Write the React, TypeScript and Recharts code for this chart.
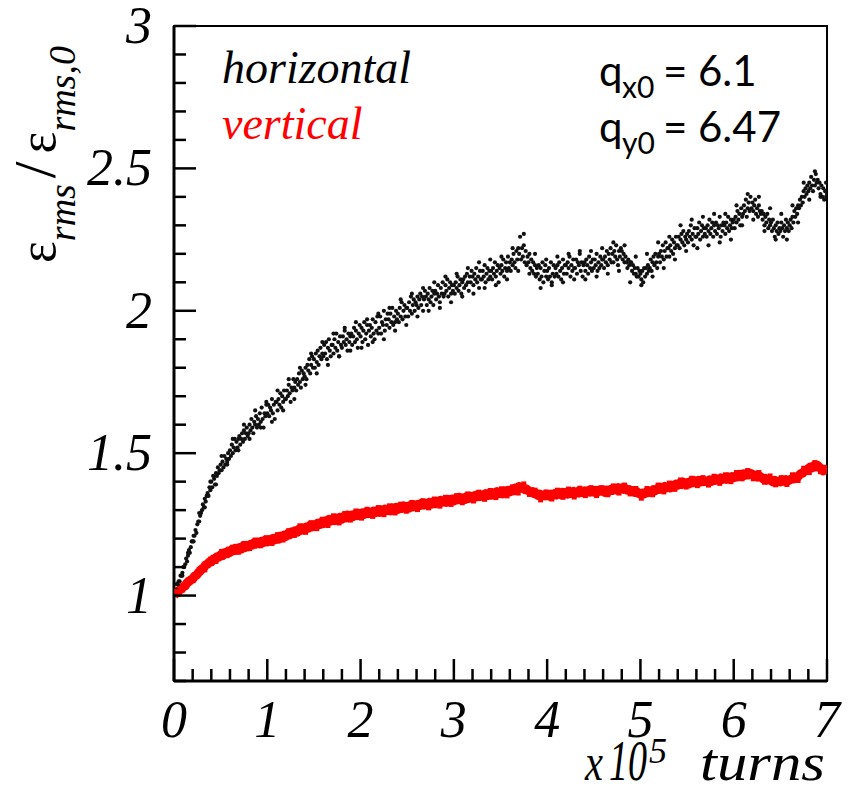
import React from 'react';
import { ComposedChart, Scatter, Line, XAxis, YAxis, ReferenceArea } from 'recharts';

// emittance growth, horizontal plane, sampled every 0.01 x 10^5 turns
const horizontalValues = [
  1.00, 1.01, 1.02, 1.02, 1.04, 1.05, 1.05, 1.07, 1.07, 1.08,
  1.10, 1.10, 1.11, 1.13, 1.12, 1.14, 1.16, 1.15, 1.17, 1.19,
  1.19, 1.21, 1.21, 1.23, 1.22, 1.25, 1.26, 1.26, 1.28, 1.29,
  1.30, 1.32, 1.31, 1.34, 1.33, 1.35, 1.36, 1.35, 1.38, 1.37,
  1.40, 1.38, 1.42, 1.41, 1.39, 1.43, 1.42, 1.45, 1.43, 1.44,
  1.46, 1.44, 1.47, 1.45, 1.49, 1.46, 1.48, 1.47, 1.50, 1.48,
  1.51, 1.49, 1.53, 1.50, 1.52, 1.55, 1.51, 1.54, 1.52, 1.55,
  1.56, 1.53, 1.55, 1.57, 1.54, 1.58, 1.55, 1.57, 1.59, 1.56,
  1.57, 1.60, 1.58, 1.62, 1.59, 1.57, 1.61, 1.60, 1.63, 1.59,
  1.62, 1.60, 1.64, 1.61, 1.66, 1.62, 1.59, 1.64, 1.63, 1.67,
  1.64, 1.67, 1.63, 1.66, 1.65, 1.69, 1.64, 1.67, 1.62, 1.68,
  1.68, 1.65, 1.69, 1.67, 1.71, 1.66, 1.70, 1.68, 1.72, 1.69,
  1.69, 1.72, 1.70, 1.74, 1.71, 1.68, 1.73, 1.72, 1.76, 1.73,
  1.75, 1.72, 1.76, 1.74, 1.78, 1.75, 1.73, 1.79, 1.76, 1.78,
  1.77, 1.80, 1.76, 1.81, 1.79, 1.83, 1.78, 1.81, 1.84, 1.80,
  1.83, 1.80, 1.85, 1.82, 1.86, 1.81, 1.84, 1.87, 1.83, 1.85,
  1.84, 1.88, 1.85, 1.89, 1.83, 1.87, 1.90, 1.86, 1.84, 1.88,
  1.88, 1.85, 1.90, 1.87, 1.92, 1.86, 1.89, 1.84, 1.91, 1.88,
  1.87, 1.91, 1.89, 1.93, 1.88, 1.90, 1.86, 1.92, 1.89, 1.91,
  1.92, 1.88, 1.91, 1.94, 1.89, 1.93, 1.90, 1.87, 1.92, 1.95,
  1.91, 1.94, 1.89, 1.93, 1.96, 1.90, 1.92, 1.95, 1.88, 1.93,
  1.95, 1.91, 1.94, 1.97, 1.92, 1.90, 1.96, 1.93, 1.98, 1.92,
  1.94, 1.98, 1.92, 1.96, 1.95, 2.00, 1.93, 1.97, 1.95, 1.99,
  1.97, 1.94, 1.99, 1.96, 2.01, 1.95, 1.98, 1.96, 2.00, 1.97,
  1.99, 1.96, 2.01, 1.98, 2.03, 1.97, 2.00, 2.02, 1.98, 2.01,
  2.01, 1.98, 2.03, 2.00, 2.05, 1.99, 2.02, 2.04, 2.00, 2.03,
  2.02, 2.05, 2.01, 2.04, 2.06, 2.02, 2.05, 2.00, 2.04, 2.07,
  2.05, 2.02, 2.06, 2.04, 2.08, 2.03, 2.05, 2.07, 2.02, 2.06,
  2.07, 2.04, 2.06, 2.09, 2.05, 2.03, 2.08, 2.06, 2.10, 2.05,
  2.06, 2.09, 2.07, 2.11, 2.05, 2.08, 2.10, 2.06, 2.09, 2.07,
  2.09, 2.06, 2.10, 2.08, 2.12, 2.07, 2.09, 2.11, 2.06, 2.10,
  2.11, 2.08, 2.12, 2.09, 2.13, 2.10, 2.07, 2.12, 2.10, 2.14,
  2.12, 2.09, 2.13, 2.11, 2.15, 2.10, 2.12, 2.08, 2.14, 2.11,
  2.11, 2.14, 2.12, 2.16, 2.10, 2.13, 2.15, 2.11, 2.14, 2.12,
  2.14, 2.11, 2.15, 2.13, 2.17, 2.12, 2.14, 2.16, 2.10, 2.15,
  2.13, 2.16, 2.14, 2.18, 2.12, 2.15, 2.17, 2.14, 2.19, 2.15,
  2.17, 2.14, 2.18, 2.16, 2.20, 2.17, 2.15, 2.21, 2.18, 2.22,
  2.20, 2.26, 2.18, 2.22, 2.19, 2.23, 2.17, 2.21, 2.16, 2.19,
  2.17, 2.20, 2.15, 2.18, 2.14, 2.17, 2.13, 2.16, 2.12, 2.15,
  2.13, 2.16, 2.11, 2.15, 2.12, 2.17, 2.10, 2.14, 2.16, 2.12,
  2.14, 2.11, 2.15, 2.12, 2.17, 2.10, 2.13, 2.16, 2.12, 2.15,
  2.13, 2.16, 2.12, 2.17, 2.14, 2.11, 2.15, 2.18, 2.13, 2.16,
  2.16, 2.13, 2.17, 2.15, 2.19, 2.12, 2.16, 2.14, 2.18, 2.15,
  2.15, 2.18, 2.13, 2.17, 2.16, 2.20, 2.14, 2.17, 2.12, 2.16,
  2.17, 2.14, 2.18, 2.16, 2.13, 2.19, 2.15, 2.17, 2.14, 2.18,
  2.15, 2.18, 2.16, 2.20, 2.14, 2.17, 2.15, 2.19, 2.16, 2.18,
  2.18, 2.15, 2.19, 2.17, 2.21, 2.16, 2.20, 2.18, 2.22, 2.17,
  2.20, 2.17, 2.21, 2.19, 2.23, 2.18, 2.16, 2.21, 2.19, 2.22,
  2.21, 2.18, 2.20, 2.17, 2.19, 2.17, 2.15, 2.18, 2.16, 2.17,
  2.17, 2.14, 2.16, 2.13, 2.15, 2.13, 2.12, 2.15, 2.12, 2.14,
  2.13, 2.11, 2.14, 2.10, 2.15, 2.12, 2.15, 2.13, 2.16, 2.14,
  2.15, 2.18, 2.14, 2.17, 2.19, 2.16, 2.20, 2.17, 2.15, 2.19,
  2.20, 2.17, 2.21, 2.19, 2.23, 2.18, 2.21, 2.24, 2.19, 2.22,
  2.22, 2.19, 2.23, 2.21, 2.25, 2.20, 2.24, 2.22, 2.26, 2.23,
  2.23, 2.26, 2.22, 2.25, 2.27, 2.24, 2.28, 2.23, 2.26, 2.25,
  2.27, 2.24, 2.28, 2.26, 2.30, 2.25, 2.27, 2.23, 2.29, 2.26,
  2.26, 2.29, 2.27, 2.31, 2.25, 2.28, 2.30, 2.26, 2.29, 2.27,
  2.29, 2.26, 2.30, 2.28, 2.32, 2.27, 2.29, 2.31, 2.26, 2.30,
  2.28, 2.31, 2.27, 2.30, 2.29, 2.33, 2.26, 2.30, 2.28, 2.31,
  2.30, 2.27, 2.31, 2.29, 2.33, 2.28, 2.30, 2.32, 2.29, 2.31,
  2.32, 2.29, 2.33, 2.31, 2.35, 2.32, 2.34, 2.30, 2.36, 2.33,
  2.34, 2.37, 2.35, 2.39, 2.33, 2.36, 2.38, 2.35, 2.40, 2.36,
  2.38, 2.35, 2.37, 2.39, 2.34, 2.36, 2.33, 2.37, 2.35, 2.34,
  2.35, 2.32, 2.34, 2.30, 2.33, 2.31, 2.34, 2.29, 2.32, 2.30,
  2.31, 2.28, 2.32, 2.29, 2.26, 2.30, 2.28, 2.31, 2.27, 2.29,
  2.28, 2.31, 2.29, 2.26, 2.30, 2.28, 2.32, 2.29, 2.31, 2.28,
  2.30, 2.32, 2.29, 2.33, 2.31, 2.35, 2.33, 2.36, 2.34, 2.37,
  2.36, 2.39, 2.37, 2.40, 2.38, 2.42, 2.40, 2.43, 2.41, 2.44,
  2.42, 2.45, 2.43, 2.47, 2.44, 2.42, 2.46, 2.44, 2.48, 2.45,
  2.46, 2.43, 2.45, 2.41, 2.44, 2.40, 2.43, 2.39, 2.42, 2.40,
  2.41,
];

// stray horizontal points at the edges of the cloud, every 0.06 starting at 0.03
const horizontalOuterValues = [
  1.04, 1.07, 1.15, 1.19, 1.29, 1.31, 1.40, 1.39, 1.49, 1.46,
  1.55, 1.51, 1.60, 1.55, 1.65, 1.59, 1.68, 1.61, 1.72, 1.65,
  1.76, 1.69, 1.80, 1.74, 1.85, 1.78, 1.89, 1.81, 1.92, 1.84,
  1.94, 1.86, 1.96, 1.87, 1.97, 1.89, 1.99, 1.90, 2.01, 1.93,
  2.04, 1.95, 2.06, 1.98, 2.08, 2.00, 2.10, 2.01, 2.12, 2.03,
  2.13, 2.05, 2.15, 2.06, 2.17, 2.08, 2.18, 2.09, 2.19, 2.11,
  2.22, 2.14, 2.27, 2.13, 2.20, 2.08, 2.18, 2.09, 2.19, 2.10,
  2.20, 2.11, 2.21, 2.11, 2.21, 2.12, 2.22, 2.13, 2.24, 2.14,
  2.23, 2.10, 2.19, 2.09, 2.20, 2.12, 2.24, 2.15, 2.26, 2.18,
  2.30, 2.21, 2.32, 2.22, 2.33, 2.23, 2.34, 2.24, 2.34, 2.25,
  2.37, 2.30, 2.41, 2.32, 2.40, 2.28, 2.36, 2.25, 2.34, 2.25,
  2.37, 2.31, 2.45, 2.39, 2.49, 2.40, 2.45,
];

// vertical plane, sampled every 0.02 x 10^5 turns
const verticalValues = [
  1.000, 1.008, 1.010, 1.020, 1.023,
  1.032, 1.034, 1.045, 1.049, 1.055,
  1.058, 1.068, 1.071, 1.080, 1.086,
  1.094, 1.098, 1.108, 1.110, 1.118,
  1.118, 1.128, 1.127, 1.136, 1.135,
  1.143, 1.140, 1.150, 1.148, 1.156,
  1.152, 1.162, 1.157, 1.166, 1.160,
  1.168, 1.163, 1.174, 1.168, 1.176,
  1.172, 1.180, 1.177, 1.186, 1.181,
  1.188, 1.182, 1.191, 1.186, 1.195,
  1.188, 1.196, 1.192, 1.201, 1.195,
  1.203, 1.198, 1.209, 1.204, 1.212,
  1.208, 1.217, 1.213, 1.224, 1.219,
  1.228, 1.222, 1.233, 1.229, 1.237,
  1.232, 1.241, 1.236, 1.247, 1.241,
  1.248, 1.243, 1.254, 1.249, 1.258,
  1.252, 1.261, 1.257, 1.268, 1.262,
  1.268, 1.263, 1.272, 1.266, 1.275,
  1.268, 1.278, 1.272, 1.283, 1.276,
  1.283, 1.277, 1.286, 1.281, 1.289,
  1.283, 1.291, 1.285, 1.294, 1.288,
  1.293, 1.287, 1.297, 1.291, 1.299,
  1.292, 1.301, 1.296, 1.304, 1.298,
  1.303, 1.297, 1.308, 1.302, 1.310,
  1.302, 1.311, 1.306, 1.315, 1.308,
  1.313, 1.307, 1.318, 1.311, 1.319,
  1.312, 1.321, 1.316, 1.325, 1.318,
  1.323, 1.317, 1.328, 1.321, 1.329,
  1.322, 1.331, 1.326, 1.335, 1.328,
  1.333, 1.327, 1.338, 1.331, 1.339,
  1.332, 1.341, 1.336, 1.345, 1.338,
  1.343, 1.337, 1.348, 1.341, 1.349,
  1.342, 1.351, 1.346, 1.355, 1.348,
  1.353, 1.347, 1.358, 1.351, 1.359,
  1.352, 1.361, 1.356, 1.365, 1.358,
  1.363, 1.357, 1.368, 1.362, 1.370,
  1.364, 1.372, 1.368, 1.378, 1.373,
  1.383, 1.377, 1.379, 1.372, 1.374,
  1.368, 1.363, 1.365, 1.358, 1.360,
  1.352, 1.356, 1.349, 1.354, 1.350,
  1.353, 1.349, 1.356, 1.352, 1.358,
  1.353, 1.360, 1.355, 1.363, 1.357,
  1.362, 1.356, 1.364, 1.359, 1.366,
  1.358, 1.365, 1.360, 1.367, 1.361,
  1.368, 1.362, 1.369, 1.363, 1.370,
  1.363, 1.369, 1.364, 1.371, 1.366,
  1.368, 1.362, 1.371, 1.366, 1.373,
  1.369, 1.376, 1.371, 1.379, 1.374,
  1.378, 1.373, 1.376, 1.370, 1.372,
  1.367, 1.369, 1.362, 1.365, 1.359,
  1.356, 1.360, 1.357, 1.363, 1.361,
  1.367, 1.362, 1.372, 1.368, 1.376,
  1.373, 1.380, 1.376, 1.383, 1.378,
  1.382, 1.378, 1.387, 1.383, 1.391,
  1.388, 1.395, 1.390, 1.398, 1.393,
  1.397, 1.392, 1.401, 1.396, 1.403,
  1.398, 1.404, 1.399, 1.406, 1.400,
  1.403, 1.398, 1.406, 1.401, 1.408,
  1.404, 1.410, 1.406, 1.413, 1.408,
  1.412, 1.408, 1.416, 1.411, 1.418,
  1.414, 1.420, 1.417, 1.425, 1.421,
  1.428, 1.422, 1.430, 1.424, 1.429,
  1.426, 1.420, 1.423, 1.416, 1.419,
  1.414, 1.409, 1.412, 1.405, 1.408,
  1.404, 1.399, 1.405, 1.398, 1.402,
  1.399, 1.405, 1.401, 1.407, 1.403,
  1.406, 1.410, 1.409, 1.416, 1.414,
  1.422, 1.428, 1.430, 1.438, 1.440,
  1.446, 1.451, 1.448, 1.456, 1.452,
  1.457, 1.449, 1.446, 1.438, 1.443,
  1.435,
];

// stray vertical points at the edges of the band, every 0.06 starting at 0.03
const verticalOuterValues = [
  1.015, 1.020, 1.055, 1.055, 1.092, 1.090, 1.128, 1.120, 1.155, 1.140,
  1.170, 1.152, 1.183, 1.165, 1.195, 1.175, 1.203, 1.183, 1.214, 1.195,
  1.228, 1.211, 1.245, 1.222, 1.256, 1.235, 1.268, 1.246, 1.280, 1.255,
  1.288, 1.265, 1.297, 1.272, 1.303, 1.278, 1.309, 1.284, 1.315, 1.290,
  1.321, 1.296, 1.327, 1.302, 1.333, 1.308, 1.339, 1.314, 1.345, 1.320,
  1.351, 1.326, 1.357, 1.332, 1.363, 1.338, 1.369, 1.344, 1.375, 1.350,
  1.382, 1.360, 1.392, 1.355, 1.370, 1.336, 1.364, 1.339, 1.370, 1.345,
  1.374, 1.346, 1.377, 1.351, 1.379, 1.351, 1.379, 1.354, 1.385, 1.360,
  1.388, 1.357, 1.376, 1.342, 1.376, 1.354, 1.388, 1.364, 1.395, 1.373,
  1.406, 1.381, 1.412, 1.386, 1.414, 1.388, 1.419, 1.394, 1.424, 1.400,
  1.432, 1.410, 1.439, 1.410, 1.432, 1.398, 1.420, 1.389, 1.414, 1.390,
  1.424, 1.404, 1.447, 1.432, 1.467, 1.435, 1.450,
];

const H_STEP = 0.01;
const V_STEP = 0.02;
const OUTER_START = 0.03;
const OUTER_STEP = 0.06;

const xTicks = [
  0, 0.2, 0.4, 0.6, 0.8, 1, 1.2, 1.4, 1.6, 1.8, 2, 2.2, 2.4, 2.6, 2.8, 3, 3.2, 3.4,
  3.6, 3.8, 4, 4.2, 4.4, 4.6, 4.8, 5, 5.2, 5.4, 5.6, 5.8, 6, 6.2, 6.4, 6.6, 6.8, 7,
];
const xLabels = [0, 1, 2, 3, 4, 5, 6, 7];
const yTicks = [
  0.7, 0.8, 0.9, 1, 1.1, 1.2, 1.3, 1.4, 1.5, 1.6, 1.7, 1.8, 1.9, 2, 2.1, 2.2, 2.3,
  2.4, 2.5, 2.6, 2.7, 2.8, 2.9, 3,
];
const yLabels = [1, 1.5, 2, 2.5, 3];

const horizontalPoints = horizontalValues.map((y, i) => ({ x: +(i * H_STEP).toFixed(2), y }));
const horizontalOuter = horizontalOuterValues.map((y, i) => ({ x: +(OUTER_START + i * OUTER_STEP).toFixed(2), y }));
const verticalPoints = verticalValues.map((y, i) => ({ x: +(i * V_STEP).toFixed(2), y }));
const verticalOuter = verticalOuterValues.map((y, i) => ({ x: +(OUTER_START + i * OUTER_STEP).toFixed(2), y }));

const SERIF = "'Liberation Serif', 'Times New Roman', serif";
const SANS = "Lato, 'Open Sans', sans-serif";

const XTick = ({ x, y, payload }: any) => {
  const v = payload.value;
  const major = xLabels.includes(v);
  return (
    <g>
      <line x1={x} x2={x} y1={y} y2={y - (major ? 22 : 12)} stroke="#000" strokeWidth={2.5} />
      {major && (
        <text x={x} y={y + 56} textAnchor="middle" fontFamily={SERIF} fontStyle="italic" fontSize={52} fill="#000">
          {v}
        </text>
      )}
    </g>
  );
};

const YTick = ({ x, y, payload }: any) => {
  const v = payload.value;
  const major = yLabels.includes(v);
  return (
    <g>
      <line x1={x} x2={x + (major ? 22 : 12)} y1={y} y2={y} stroke="#000" strokeWidth={2.5} />
      {major && (
        <text x={x - 22} y={y + 17} textAnchor="end" fontFamily={SERIF} fontStyle="italic" fontSize={52} fill="#000">
          {v}
        </text>
      )}
    </g>
  );
};

const BlackDot = (p: any) => <circle cx={p.cx} cy={p.cy} r={2.1} fill="#111" />;
const RedDot = (p: any) => <rect x={p.cx - 2.5} y={p.cy - 2.5} width={5} height={5} fill="#ff0000" />;

export default function App() {
  return (
    <div style={{ position: 'relative', width: 850, height: 782 }}>
      <ComposedChart
        width={850}
        height={782}
        margin={{ top: 18, right: 31, left: 0, bottom: 0 }}
        style={{ overflow: 'visible' }}
      >
        <XAxis
          type="number"
          dataKey="x"
          domain={[0, 7]}
          ticks={xTicks}
          interval={0}
          tick={<XTick />}
          tickLine={false}
          tickSize={0}
          tickMargin={0}
          height={109}
          axisLine={{ stroke: '#000', strokeWidth: 3 }}
          allowDataOverflow
        />
        <YAxis
          type="number"
          domain={[0.7, 3]}
          ticks={yTicks}
          interval={0}
          tick={<YTick />}
          tickLine={false}
          tickSize={0}
          tickMargin={0}
          width={166}
          axisLine={{ stroke: '#000', strokeWidth: 3 }}
          allowDataOverflow
        />
        <ReferenceArea x1={0} x2={7} y1={0.7} y2={3} fill="none" stroke="#000" strokeWidth={2} fillOpacity={0} />
        <Scatter data={horizontalPoints} dataKey="y" fill="#000" shape={BlackDot} isAnimationActive={false} />
        <Scatter data={horizontalOuter} dataKey="y" fill="#000" shape={BlackDot} isAnimationActive={false} />
        <Line
          data={verticalPoints}
          dataKey="y"
          type="linear"
          stroke="#ff0000"
          strokeWidth={9}
          strokeLinejoin="round"
          dot={false}
          activeDot={false}
          isAnimationActive={false}
        />
        <Scatter data={verticalOuter} dataKey="y" fill="#ff0000" shape={RedDot} isAnimationActive={false} />
      </ComposedChart>
      <svg width={850} height={782} style={{ position: 'absolute', left: 0, top: 0, pointerEvents: 'none', overflow: 'visible' }}>
        <text x={214} y={75} fontFamily={SERIF} fontStyle="italic" fontSize={46} fill="#000">horizontal</text>
        <text x={214} y={131} fontFamily={SERIF} fontStyle="italic" fontSize={46} fill="#ff0000">vertical</text>

        <g fontFamily={SANS} fill="#000">
          <text x={591} y={78} fontSize={42}>q</text>
          <text x={614} y={90} fontSize={30}>x0</text>
          <text x={655} y={78} fontSize={42}>=</text>
          <text x={690} y={78} fontSize={42}>6.1</text>
          <text x={591} y={134} fontSize={42}>q</text>
          <text x={614} y={146} fontSize={30}>y0</text>
          <text x={655} y={134} fontSize={42}>=</text>
          <text x={690} y={134} fontSize={42}>6.47</text>
        </g>

        <g fontFamily={SERIF} fontStyle="italic" fill="#000">
          <text x={577} y={772} fontSize={52} textLength={18} lengthAdjust="spacingAndGlyphs">x</text>
          <text x={601} y={772} fontSize={58} textLength={38} lengthAdjust="spacingAndGlyphs">10</text>
          <text x={641} y={755} fontSize={36}>5</text>
          <text x={692} y={772} fontSize={52} textLength={125} lengthAdjust="spacingAndGlyphs">turns</text>
        </g>

        <text transform="translate(47,255) rotate(-90)" fontFamily={SERIF} fontSize={52} fill="#000">
          <tspan>ε</tspan>
          <tspan fontStyle="italic" fontSize={38} dy={20}>rms</tspan>
          <tspan dx={6} dy={-20} fontSize={60}>/</tspan>
          <tspan dx={8}>ε</tspan>
          <tspan fontStyle="italic" fontSize={38} dy={20}>rms,0</tspan>
        </text>
      </svg>
    </div>
  );
}
